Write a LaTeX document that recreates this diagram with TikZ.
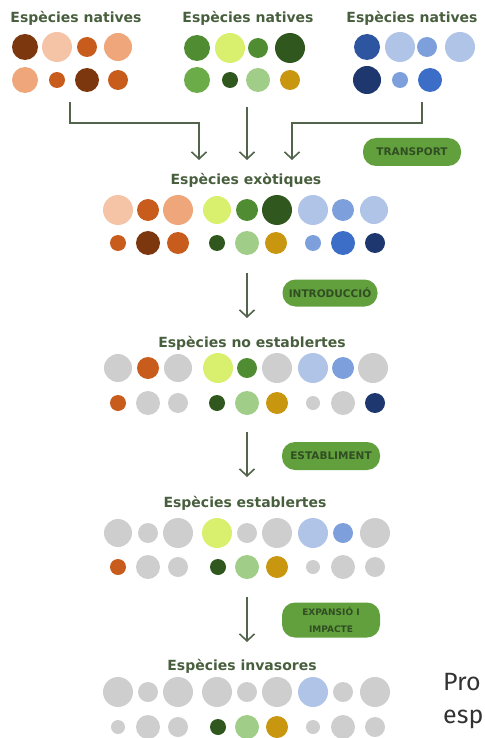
\documentclass[tikz,border=0pt]{standalone}
\usepackage{fontspec}
\setmainfont{Fira Sans}
\newfontfamily\headfont{DejaVu Sans}
\usetikzlibrary{arrows.meta}

\definecolor{titlegreen}{RGB}{72,95,62}
\definecolor{arrowgray}{RGB}{82,100,76}
\definecolor{pillgreen}{RGB}{98,160,62}
\definecolor{pilltext}{RGB}{48,78,34}
\definecolor{spgray}{RGB}{206,206,206}
\definecolor{brown}{RGB}{125,55,15}
\definecolor{peach}{RGB}{245,196,166}
\definecolor{rust}{RGB}{200,92,28}
\definecolor{salmon}{RGB}{238,166,122}
\definecolor{leaf}{RGB}{80,140,50}
\definecolor{lime}{RGB}{216,240,110}
\definecolor{forest}{RGB}{48,88,30}
\definecolor{grass}{RGB}{108,172,72}
\definecolor{mint}{RGB}{160,205,135}
\definecolor{gold}{RGB}{200,150,15}
\definecolor{cobalt}{RGB}{45,85,160}
\definecolor{sky}{RGB}{176,196,232}
\definecolor{lavblue}{RGB}{125,160,220}
\definecolor{navy}{RGB}{30,55,110}
\definecolor{royal}{RGB}{60,110,200}
\definecolor{captext}{RGB}{50,50,50}

\begin{document}
\begin{tikzpicture}[x=1pt,y=-1pt,
    title/.style={text=titlegreen,font=\fontsize{14}{16}\headfont\bfseries},
    phase/.style={fill=pillgreen,text=pilltext,rounded corners=13pt,
        minimum width=98pt,minimum height=28pt,align=center,
        font=\fontsize{10.5}{12}\headfont\bfseries},
    flow/.style={draw=arrowgray,line width=1.6pt,
        -{Straight Barb[length=7pt,width=15pt]}}]
    \useasboundingbox (0,0) rectangle (484,738);

    % native species
    \node[title] (natA) at (76,18) {Espècies natives};
    \node[title] (natB) at (248,18) {Espècies natives};
    \node[title] (natC) at (412,18) {Espècies natives};
    \foreach \x/\r/\c in {25/13/brown,57/15/peach,87/10/rust,118/14/salmon}
        \fill[\c] (\x,47) circle (\r);
    \foreach \x/\r/\c in {25/13/salmon,57/8/rust,87/12/brown,118/10/rust}
        \fill[\c] (\x,80) circle (\r);
    \foreach \x/\r/\c in {197/13/leaf,230/15/lime,258/10/leaf,290/15/forest}
        \fill[\c] (\x,48) circle (\r);
    \foreach \x/\r/\c in {197/13/grass,230/8/forest,258/12/mint,290/10/gold}
        \fill[\c] (\x,80) circle (\r);
    \foreach \x/\r/\c in {367/13/cobalt,400/15/sky,427/10/lavblue,460/15/sky}
        \fill[\c] (\x,47) circle (\r);
    \foreach \x/\r/\c in {367/14/navy,400/8/lavblue,430/12/royal}
        \fill[\c] (\x,80) circle (\r);

    % transport
    \coordinate (fromA) at (70,102);
    \coordinate (fromB) at (247,107);
    \coordinate (fromC) at (422,102);
    \coordinate (toA) at (199,160);
    \coordinate (toB) at (247,160);
    \coordinate (toC) at (292,160);
    \draw[flow] (fromA) -- (70,123) -| (toA);
    \draw[flow] (fromB) -- (toB);
    \draw[flow] (fromC) -- (422,123) -| (toC);
    \node[phase] (transport) at (412,152) {TRANSPORT};

    % exotic species
    \node[title] (exo) at (246,180) {Espècies exòtiques};
    \foreach \x/\r/\c in {118/15/peach,148/11/rust,178/15/salmon,217/14/lime,247/11/leaf,
        277/15/forest,313/15/sky,343/11/lavblue,374/14/sky}
        \fill[\c] (\x,210) circle (\r);
    \foreach \x/\r/\c in {118/8/rust,148/12/brown,178/11/rust,217/8/forest,247/12/mint,
        276/11/gold,313/8/lavblue,343/12/royal,375/10/navy}
        \fill[\c] (\x,243) circle (\r);

    % introduction
    \coordinate (exoOut) at (247,273);
    \coordinate (noeIn) at (247,318);
    \draw[flow] (exoOut) -- (noeIn);
    \node[phase,minimum width=95pt,minimum height=27pt] (intro) at (330,293) {INTRODUCCIÓ};

    % not established
    \node[title] (noe) at (252,343) {Espècies no establertes};
    \foreach \x/\r/\c in {118/14/spgray,148/11/rust,178/14/spgray,218/15/lime,247/10/leaf,
        277/15/spgray,313/15/sky,343/11/lavblue,373/15/spgray}
        \fill[\c] (\x,368) circle (\r);
    \foreach \x/\r/\c in {118/8/rust,148/12/spgray,178/10/spgray,217/8/forest,247/12/mint,
        277/11/gold,313/7/spgray,343/12/spgray,375/10/navy}
        \fill[\c] (\x,403) circle (\r);

    % establishment
    \coordinate (noeOut) at (247,432);
    \coordinate (estIn) at (247,477);
    \draw[flow] (noeOut) -- (estIn);
    \node[phase] (establ) at (331,456) {ESTABLIMENT};

    % established
    \node[title] (est) at (245,503) {Espècies establertes};
    \foreach \x/\r/\c in {118/14/spgray,148/10/spgray,178/15/spgray,217/15/lime,247/10/spgray,
        277/15/spgray,313/15/sky,343/10/lavblue,375/15/spgray}
        \fill[\c] (\x,533) circle (\r);
    \foreach \x/\r/\c in {118/8/rust,148/12/spgray,178/10/spgray,218/8/forest,247/12/mint,
        277/11/gold,313/7/spgray,343/12/spgray,375/10/spgray}
        \fill[\c] (\x,567) circle (\r);

    % expansion and impact
    \coordinate (estOut) at (247,597);
    \coordinate (invIn) at (247,642);
    \draw[flow] (estOut) -- (invIn);
    \node[phase,minimum height=35pt,font=\fontsize{9}{17}\headfont\bfseries]
        (expand) at (331,620) {EXPANSIÓ I\\IMPACTE};

    % invasive
    \node[title] (inv) at (242,666) {Espècies invasores};
    \foreach \x/\r/\c in {118/15/spgray,148/10/spgray,178/15/spgray,217/15/spgray,247/10/spgray,
        277/15/spgray,313/15/sky,343/10/spgray,375/15/spgray}
        \fill[\c] (\x,692) circle (\r);
    \foreach \x/\r/\c in {118/7/spgray,148/12/spgray,178/10/spgray,218/8/forest,247/12/mint,
        277/11/gold,313/7/spgray,343/12/spgray,375/10/spgray}
        \fill[\c] (\x,727) circle (\r);

    \node[anchor=base west,inner sep=0pt,text=captext,
        font=\fontsize{25}{27}\selectfont] (capA) at (443,690) {Pro};
    \node[anchor=base west,inner sep=0pt,text=captext,
        font=\fontsize{25}{27}\selectfont] (capB) at (443,723) {esp};
\end{tikzpicture}
\end{document}
